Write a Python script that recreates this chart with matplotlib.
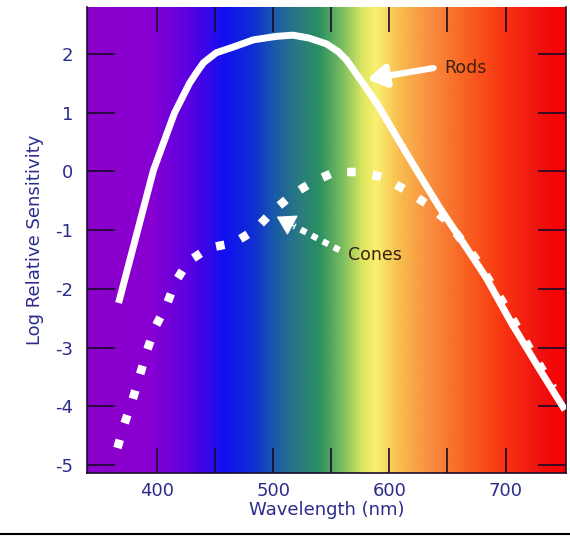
import numpy as np
import matplotlib.pyplot as plt
from matplotlib.colors import LinearSegmentedColormap

plt.rcParams['axes.unicode_minus'] = False

# spectrum colour anchors (wavelength nm -> colour)
spec_wl = [340, 394, 428, 458, 484, 501, 522, 540, 561, 578, 589, 608, 634, 668, 702, 732, 755]
spec_col = ['#8c00c8', '#8800d2', '#5a00e2', '#1010f0', '#1030d0', '#1a5aa8', '#2a7a80',
            '#2a9060', '#80c060', '#e0e860', '#f8f070', '#f8c050', '#f89040', '#f86020',
            '#f83010', '#f01010', '#f80000']

# rods (solid)
rods_wl = [367, 397, 415, 428, 434, 440, 451, 466, 483, 503, 517, 531, 546, 556, 563, 577,
           591, 608, 625, 643, 666, 683, 705, 728, 751]
rods_val = [-2.24, 0.02, 0.99, 1.50, 1.68, 1.85, 2.02, 2.12, 2.24, 2.30, 2.32, 2.27, 2.17,
            2.04, 1.90, 1.51, 1.10, 0.53, -0.03, -0.61, -1.29, -1.80, -2.58, -3.33, -4.06]

# cones (dotted)
cones_wl = [366, 372, 379, 385, 391, 398, 408, 416, 427, 445, 466, 484, 499, 516, 534,
            553, 574, 595, 614, 631, 649, 674, 698, 720, 741]
cones_val = [-4.71, -4.30, -3.89, -3.49, -3.08, -2.67, -2.29, -1.88, -1.53, -1.30, -1.22,
             -1.0, -0.69, -0.40, -0.18, -0.01, -0.01, -0.10, -0.32, -0.54, -0.83, -1.48,
             -2.24, -2.99, -3.69]

xticks = [400, 450, 500, 550, 600, 650, 700]
xlabels = ['400', '', '500', '', '600', '', '700']
yticks = [2, 1, 0, -1, -2, -3, -4, -5]

txt_blue = '#2c2c8c'
xmin, xmax = 340, 752
ymin, ymax = -5.14, 2.8

fig = plt.figure(figsize=(5.7, 5.36), dpi=100)
ax = fig.add_axes([0.153, 0.117, 0.840, 0.870])

# spectrum background
pos = [(w - xmin) / (xmax - xmin) for w in spec_wl]
pos = [min(max(p, 0), 1) for p in pos]
pos[0], pos[-1] = 0.0, 1.0
cmap = LinearSegmentedColormap.from_list('spec', list(zip(pos, spec_col)))
grad = np.linspace(0, 1, 600).reshape(1, -1)
ax.imshow(grad, cmap=cmap, aspect='auto', extent=[xmin, xmax, ymin, ymax], zorder=0)

ax.plot(rods_wl, rods_val, color='white', lw=5, solid_capstyle='butt',
        solid_joinstyle='round', zorder=3)
ax.plot(cones_wl, cones_val, color='white', lw=6.2, linestyle=(0, (1, 2.0)),
        dash_capstyle='butt', zorder=3)

# labels with arrows
ax.annotate('', xy=(581, 1.57), xytext=(638, 1.76),
            arrowprops=dict(arrowstyle='-|>,head_length=0.9,head_width=0.55',
                            color='white', lw=4.5, shrinkA=0, shrinkB=0,
                            mutation_scale=12), zorder=4)
ax.text(647, 1.76, 'Rods', color='#3b2010', fontsize=12.5, va='center', ha='left')

# cones arrow: dotted shaft + solid head
ax.plot([557, 518], [-1.34, -0.93], color='white', lw=4.5, linestyle=(0, (1, 1)),
        dash_capstyle='butt', zorder=4)
ax.annotate('', xy=(503, -0.77), xytext=(518, -0.93),
            arrowprops=dict(arrowstyle='-|>,head_length=0.9,head_width=0.55',
                            color='white', lw=1, shrinkA=0, shrinkB=0,
                            mutation_scale=13), zorder=4)
ax.text(564, -1.42, 'Cones', color='#3b2010', fontsize=12.5, va='center', ha='left')

ax.set_xlim(xmin, xmax)
ax.set_ylim(ymin, ymax)
ax.set_xticks(xticks)
ax.set_xticklabels(xlabels)
ax.set_yticks(yticks)
ax.tick_params(axis='x', direction='in', length=18, width=1.2, color='#1a0a2a',
               top=True, labelsize=13, labelcolor=txt_blue, pad=6)
ax.tick_params(axis='y', direction='in', length=20, width=1.2, color='#1a0a2a',
               right=True, labelsize=13, labelcolor=txt_blue, pad=10)
for s in ax.spines.values():
    s.set_color('#1a0a2a')
    s.set_linewidth(1.2)
ax.spines['top'].set_visible(False)
ax.set_xlabel('Wavelength (nm)', fontsize=13, color=txt_blue, labelpad=1)
ax.set_ylabel('Log Relative Sensitivity', fontsize=13, color=txt_blue, labelpad=8)

# frame line at the bottom of the picture
fig.add_artist(plt.Line2D([0, 1], [0.004, 0.004], color='black', lw=1.5,
                          transform=fig.transFigure))

fig.savefig('out.png', dpi=100)
